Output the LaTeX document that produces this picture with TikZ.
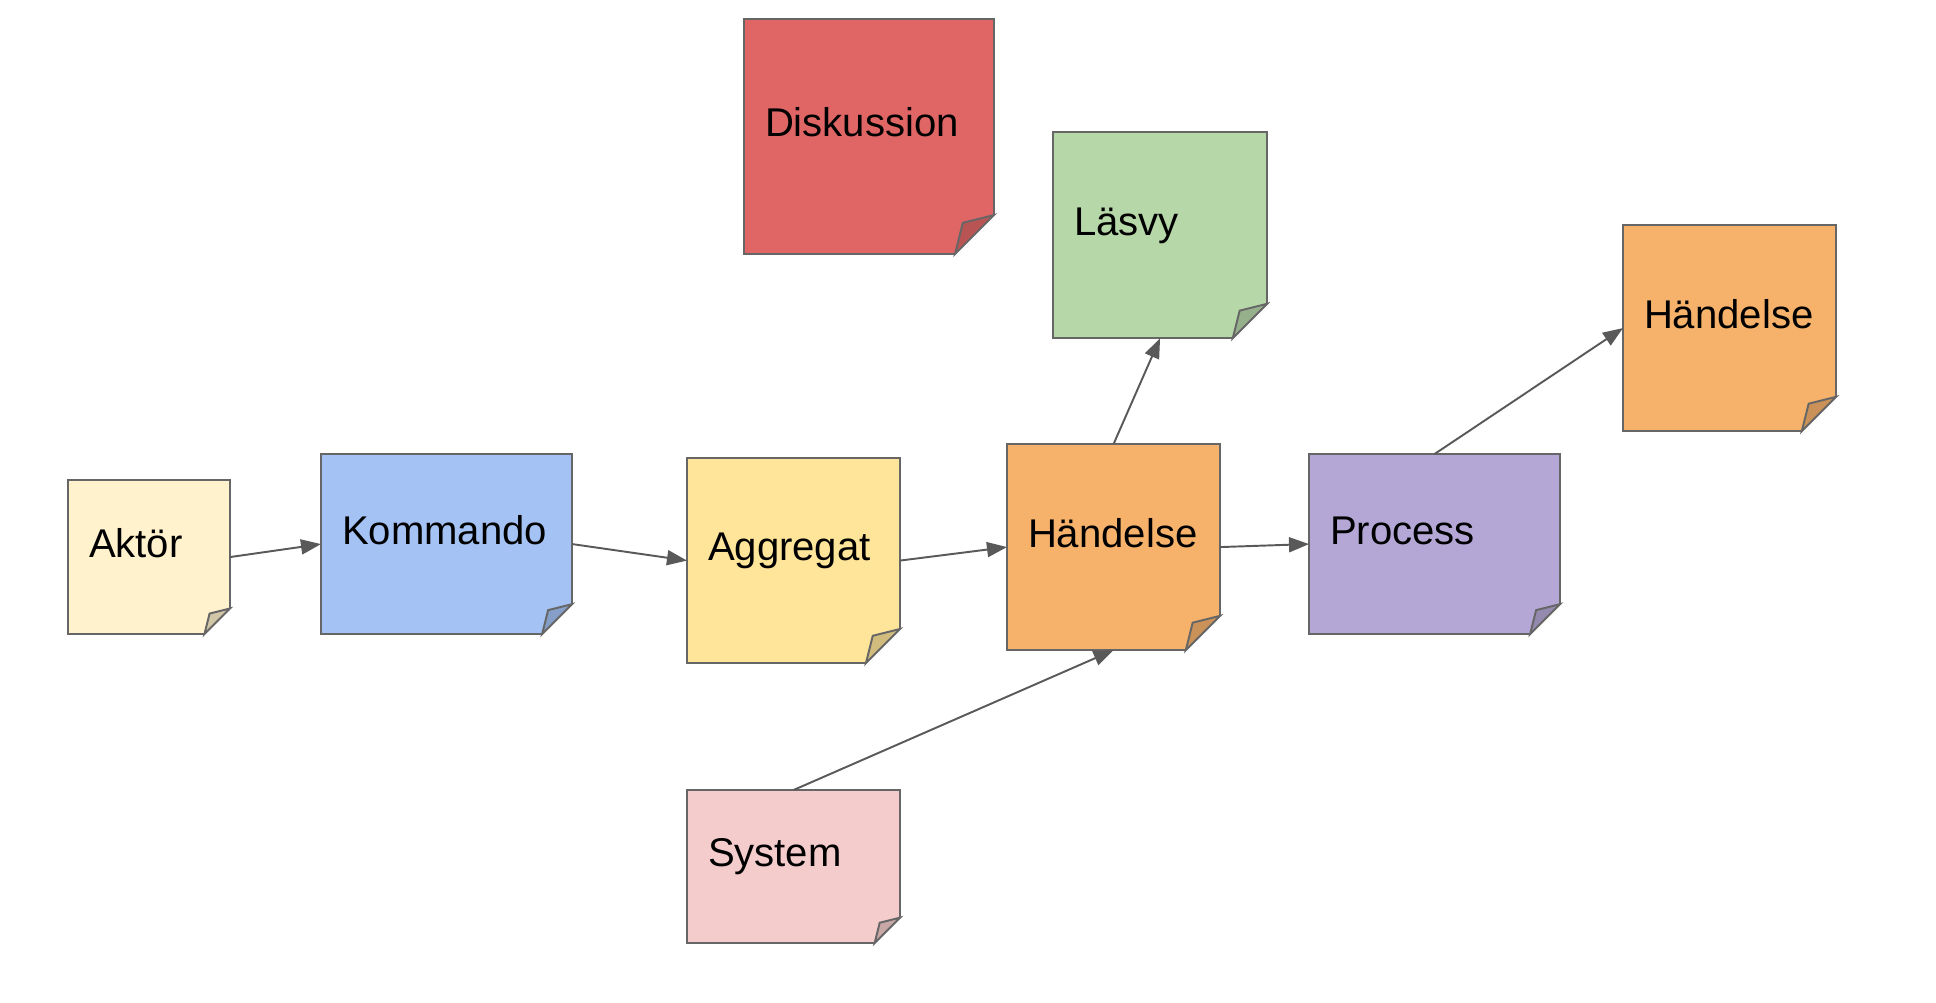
\documentclass[tikz,border=0pt]{standalone}
\usepackage{fontspec}
\setmainfont{Liberation Sans}
\usetikzlibrary{arrows.meta,calc}
\definecolor{notegray}{HTML}{666666}
\definecolor{arrowgray}{HTML}{595959}
\definecolor{aktorcol}{HTML}{FFF2CC}
\definecolor{kommandocol}{HTML}{A4C2F4}
\definecolor{aggregatcol}{HTML}{FFE599}
\definecolor{handelsecol}{HTML}{F6B26B}
\definecolor{processcol}{HTML}{B4A7D6}
\definecolor{lasvycol}{HTML}{B6D7A8}
\definecolor{diskussioncol}{HTML}{E06666}
\definecolor{systemcol}{HTML}{F4CCCC}

\begin{document}
\begin{tikzpicture}[x=0.01cm,y=-0.01cm]
		\tikzset{
			note/.style n args={3}{draw=notegray, line width=0.55pt, outer sep=0pt, anchor=north west,
			inner xsep=0.21cm, inner ysep=0pt, minimum width=#1cm, minimum height=#2cm,
			text width=#3cm, align=left, text height=2ex, text depth=2ex,
			font=\fontsize{11.4}{13.7}\selectfont},
			flow/.style=
			{draw=arrowgray, line width=0.55pt, -{Triangle[length=0.2cm,width=0.15cm]}},
		}
		\useasboundingbox (0,0) rectangle (1936,1002);
		\begin{scope}
		\node[note={1.62}{1.54}{1.20}, fill=aktorcol] (aktor) at (68,480) {Aktör};
		\node[note={2.51}{1.80}{2.09}, fill=kommandocol] (kommando) at (321,454) {Kommando};
		\node[note={2.13}{2.05}{1.71}, fill=aggregatcol] (aggregat) at (687,458) {Aggregat};
		\node[note={2.13}{2.06}{1.71}, fill=handelsecol] (handelse) at (1007,444) {Händelse};
		\node[note={2.51}{1.80}{2.09}, fill=processcol] (process) at (1309,454) {Process};
		\node[note={2.13}{2.06}{1.71}, fill=handelsecol] (handelse2) at (1623,225) {Händelse};
		\node[note={2.14}{2.06}{1.72}, fill=lasvycol] (lasvy) at (1053,132) {Läsvy};
		\node[note={2.50}{2.35}{2.08}, fill=diskussioncol] (diskussion) at (744,19) {Diskussion};
		\node[note={2.13}{1.53}{1.71}, fill=systemcol] (system) at (687,790) {System};
		\end{scope}
		\begin{scope}
		\foreach \nm/\cl in {aktor/aktorcol, kommando/kommandocol, aggregat/aggregatcol,
			handelse/handelsecol, process/processcol, handelse2/handelsecol,
			lasvy/lasvycol, diskussion/diskussioncol, system/systemcol}{
			\fill[white] let \p1=(\nm.south east), \p2=(\nm.north west),
				\n1={min(\x1-\x2,\y2-\y1)/6} in
				({\x1+1pt},{\y1+\n1+1pt}) -- ({\x1+1pt},{\y1-1pt}) -- ({\x1-\n1-1pt},{\y1-1pt}) -- cycle;
			\draw[draw=notegray, line width=0.55pt, fill=\cl!82!black] let \p1=(\nm.south east), \p2=(\nm.north west),
				\n1={min(\x1-\x2,\y2-\y1)/6} in
				({\x1},{\y1+\n1}) -- ({\x1-0.8*\n1},{\y1+0.8*\n1}) -- ({\x1-\n1},{\y1}) -- cycle;
		}
		\end{scope}
		\begin{scope}
		\draw[flow] (aktor.east) -- (kommando.west);
		\draw[flow] (kommando.east) -- (aggregat.west);
		\draw[flow] (aggregat.east) -- (handelse.west);
		\draw[flow] (handelse.east) -- (process.west);
		\draw[flow] (handelse.north) -- (lasvy.south);
		\draw[flow] (process.north) -- (handelse2.west);
		\draw[flow] (system.north) -- (handelse.south);
		\end{scope}
\end{tikzpicture}
\end{document}
